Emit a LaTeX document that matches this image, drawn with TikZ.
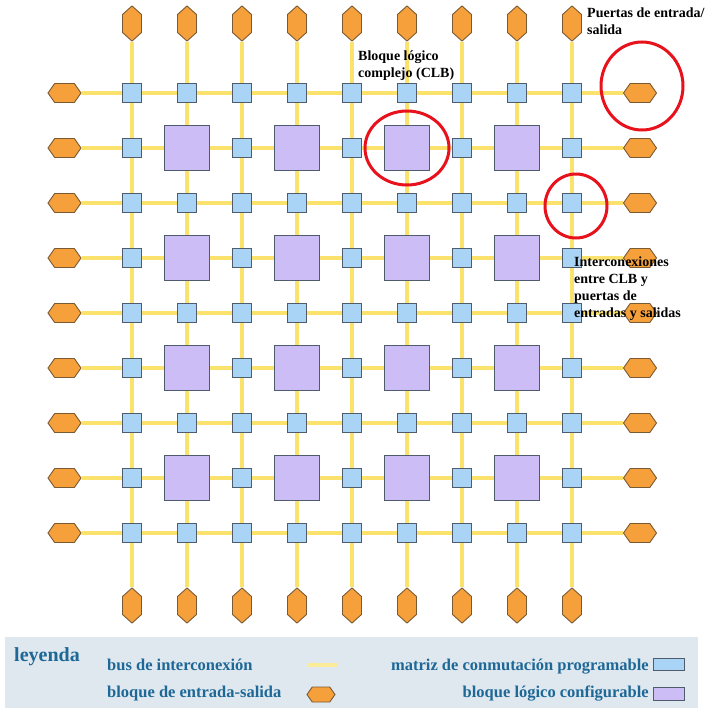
\documentclass[tikz,border=0pt]{standalone}
\usepackage{fontspec}
\setmainfont{Liberation Serif}
\usetikzlibrary{shapes.symbols, shapes.geometric, backgrounds}

\definecolor{busyellow}{HTML}{FBE26C}
\definecolor{switchblue}{HTML}{A9D4F6}
\definecolor{clbpurple}{HTML}{CDBDF7}
\definecolor{ioorange}{HTML}{F6A03C}
\definecolor{edgegray}{HTML}{4E5C6C}
\definecolor{ioedge}{HTML}{7A5A32}
\definecolor{ringred}{HTML}{E8121C}
\definecolor{legendbg}{HTML}{DFE7EF}
\definecolor{legendtext}{HTML}{1D6896}

\begin{document}
\begin{tikzpicture}[x=1pt, y=-1pt]
\tikzset{font=\bfseries}
\tikzset{bus/.style={draw=busyellow, line width=4pt}}
\tikzset{switchbox/.style={draw=edgegray, fill=switchblue, line width=0.9pt, minimum size=19pt, inner sep=0pt}}
\tikzset{clbbox/.style={draw=edgegray, fill=clbpurple, line width=0.9pt, minimum size=45pt, inner sep=0pt}}
\tikzset{iopad/.style={signal, signal pointer angle=110, draw=ioedge, fill=ioorange, line width=0.9pt, inner sep=0pt}}
\tikzset{iohoriz/.style={iopad, signal to=east and west, minimum width=33pt, minimum height=19pt}}
\tikzset{iovert/.style={iopad, signal to=north and south, signal pointer angle=96, minimum width=19pt, minimum height=18pt}}
\tikzset{redring/.style={ellipse, draw=ringred, line width=3pt, inner sep=0pt}}
\tikzset{note/.style={font=\fontsize{14}{17}\selectfont\bfseries, align=left, inner sep=0pt, anchor=base west}}
\tikzset{legendlabel/.style={font=\fontsize{16.5}{20}\selectfont\bfseries, text=legendtext, inner sep=0pt}}

\useasboundingbox (0,0) rectangle (709,707);

% switch matrices and logic blocks
\foreach \i in {1,...,9} {
  \foreach \j in {1,...,9} {
    \pgfmathtruncatemacro{\isclb}{and(iseven(\i),iseven(\j))}
    \ifnum\isclb=1
      \node[clbbox] (clb-\i-\j) at ({132+55*(\i-1)},{93+55*(\j-1)}) {};
    \else
      \node[switchbox] (sw-\i-\j) at ({132+55*(\i-1)},{93+55*(\j-1)}) {};
    \fi
  }
}

% input/output pads
\foreach \i in {1,...,9} {
  \node[iovert] (iot-\i) at ({132+55*(\i-1)},23.5) {};
  \node[iovert] (iob-\i) at ({132+55*(\i-1)},605.5) {};
  \node[iohoriz] (iol-\i) at (64.5,{93+55*(\i-1)}) {};
  \node[iohoriz] (ior-\i) at (640,{93+55*(\i-1)}) {};
}

% buses
\begin{scope}[on background layer]
\foreach \i in {1,...,9} {
  \draw[bus] (iot-\i) -- (iob-\i);
  \draw[bus] (iol-\i) -- (ior-\i);
}
\end{scope}

% highlights
\node[redring, minimum width=82pt, minimum height=88pt] (ring-io) at (642,86) {};
\node[redring, minimum width=84pt, minimum height=74pt] (ring-clb) at (clb-6-2) {};
\node[redring, minimum width=62pt, minimum height=64pt] (ring-sw) at (576,206) {};

% notes (anchored on the last line)
\node[note] (note-io) at (587,34.5) {Puertas de entrada/\\salida};
\node[note] (note-clb) at (358,77.5) {Bloque lógico\\complejo (CLB)};
\node[note] (note-sw) at (574,317.5) {Interconexiones\\entre CLB y\\puertas de\\entradas y salidas};

% legend
\node[fill=legendbg, minimum width=693pt, minimum height=73pt, inner sep=0pt, anchor=north west] (legend) at (5,637) {};
\node[legendlabel, font=\fontsize{20}{24}\selectfont\bfseries, anchor=base west] (leg-title) at (14,661) {leyenda};
\node[legendlabel, anchor=base west] (leg-bus) at (107,670) {bus de interconexión};
\node[legendlabel, anchor=base west] (leg-io) at (107,697) {bloque de entrada-salida};
\node[legendlabel, anchor=base east] (leg-sw) at (649,670) {matriz de conmutación programable};
\node[legendlabel, anchor=base east] (leg-clb) at (649,697) {bloque lógico configurable};
\coordinate (bus-a) at (307,665);
\coordinate (bus-b) at (338,665);
\draw[bus, draw=busyellow!70] (bus-a) -- (bus-b);
\node[iopad, signal to=east and west, minimum width=28pt, minimum height=15pt] (key-io) at (321,694.5) {};
\node[switchbox, minimum width=31pt, minimum height=12pt] (key-sw) at (668.5,664) {};
\node[clbbox, minimum width=31pt, minimum height=13pt] (key-clb) at (668.5,693.5) {};
\end{tikzpicture}
\end{document}
